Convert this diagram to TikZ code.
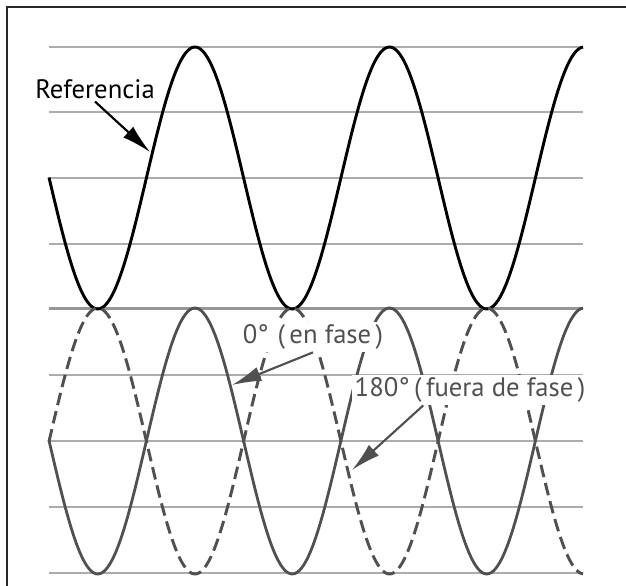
\documentclass[tikz,border=0pt]{standalone}
\usepackage{fontspec}
\setmainfont{PT Sans}
\usetikzlibrary{arrows.meta}
\definecolor{gridGray}{RGB}{172,172,172}
\definecolor{sepGray}{RGB}{150,150,150}
\definecolor{waveGray}{RGB}{80,80,80}
\definecolor{frameDark}{RGB}{40,40,40}

\begin{document}
\begin{tikzpicture}[x=0.75pt,y=-0.75pt,
      grid/.style={draw=gridGray,line width=1.1pt},
      refwave/.style={draw=black,line width=2.2pt},
      solidwave/.style={draw=waveGray,line width=2.1pt},
      dashwave/.style={draw=waveGray,line width=2.2pt,dash pattern=on 9.5pt off 4.5pt},
      lbl/.style={font=\fontsize{20}{23}\selectfont,inner sep=2pt},
      pointer/.style={-{Latex[length=22pt,width=11pt]},line width=1.6pt}]
    \useasboundingbox (0,0) rectangle (626,586);

    % Cadre (coupé à droite et en bas).
    \draw[frameDark,line width=1.5pt] (7,586) -- (7,7) -- (626,7);

    % Lignes de la grille : panneau du haut.
    \draw[grid] (49,47) -- (583,47);
    \draw[grid] (49,112) -- (583,112);
    \draw[grid,line width=1.4pt] (49,178) -- (583,178);
    \draw[grid] (49,244) -- (583,244);
    % Séparation des deux panneaux.
    \draw[sepGray,line width=2.4pt] (49,308.5) -- (583,308.5);
    % Panneau du bas.
    \draw[grid] (49,375) -- (583,375);
    \draw[grid,line width=1.4pt] (49,441) -- (583,441);
    \draw[grid] (49,507) -- (583,507);
    \draw[grid] (49,573) -- (583,573);

    % Onde de référence.
    \draw[refwave] plot[domain=49:583,samples=240,smooth]
      (\x,{178-131*cos(1.8509*(\x-195))});

    % Ondes du bas : en phase (trait plein) et en opposition (tirets).
    \draw[solidwave] plot[domain=49:583,samples=240,smooth]
      (\x,{441-133*cos(1.8509*(\x-195))});
    \draw[dashwave] plot[domain=49:583,samples=240,smooth]
      (\x,{441+133*cos(1.8509*(\x-195))});

    % Étiquettes.
    \node[lbl] (ref) at (95,89) {Referencia};
    \node[lbl,fill=white,text=waveGray] (enfase) at (313,337) {0°\,\,(\,en fase\,)};
    \node[lbl,fill=white,text=waveGray] (fuera) at (470,390) {180°\,(\,fuera de fase\,)};

    \coordinate (refTip) at (150,152);
    \coordinate (enTip) at (232,385);
    \coordinate (fueraTip) at (352,470);

    \draw[pointer,black] (ref.south) -- (refTip);
    \draw[pointer,waveGray] (enfase.south) -- (enTip);
    \draw[pointer,waveGray] ([xshift=-35pt]fuera.south) -- (fueraTip);
  \end{tikzpicture}
\end{document}
